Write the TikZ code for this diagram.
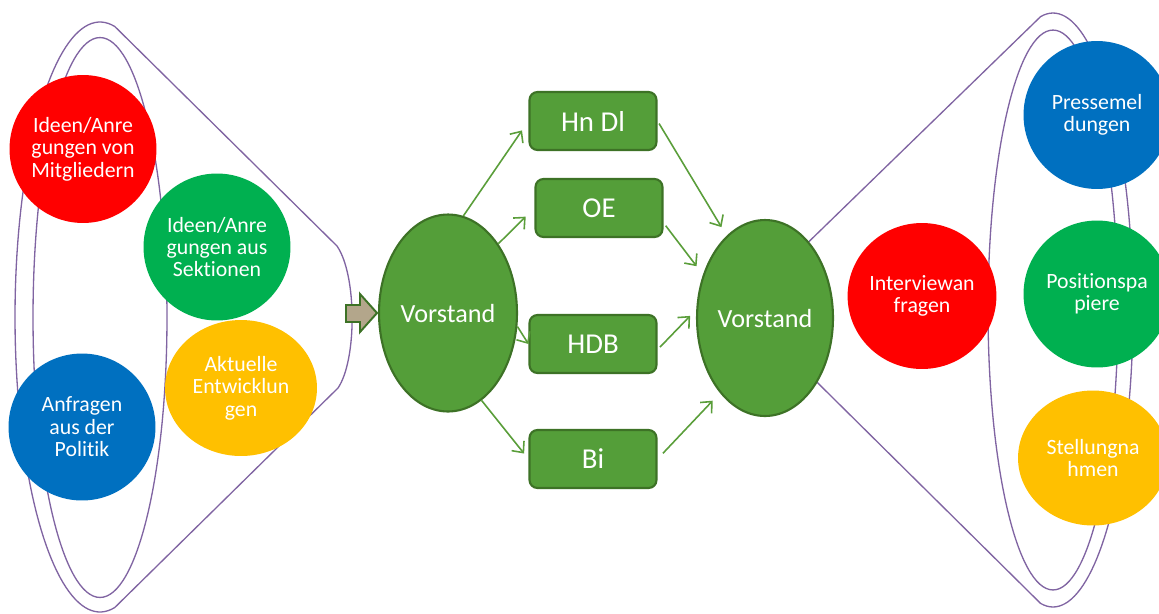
\documentclass[tikz,border=0pt]{standalone}
\usepackage{fontspec}
\setmainfont{Carlito}[Ligatures=NoCommon]
\usetikzlibrary{shapes.geometric,arrows.meta}
\definecolor{cred}{HTML}{FF0000}
\definecolor{cgreen}{HTML}{00B050}
\definecolor{cblue}{HTML}{0070C0}
\definecolor{cyellow}{HTML}{FFC000}
\definecolor{vgreen}{HTML}{549E39}
\definecolor{vborder}{HTML}{3D7226}
\definecolor{funnelc}{HTML}{8064A2}
\definecolor{arrowgreen}{HTML}{5A9E3A}
\definecolor{tanfill}{HTML}{B3A68B}
\begin{document}
\begin{tikzpicture}[x=0.02cm,y=-0.02cm,
  funnel/.style={draw=funnelc, line width=0.75pt},
  bubble/.style={ellipse, inner sep=0pt, text=white, align=center,
    font=\fontsize{12.4pt}{12.8pt}\selectfont},
  vorstand/.style={ellipse, inner sep=0pt, fill=vgreen, draw=vborder, line width=1.2pt,
    text=white, font=\fontsize{14.9pt}{16pt}\selectfont},
  box/.style={rectangle, rounded corners=4.5pt, fill=vgreen, draw=vborder, line width=1.2pt,
    minimum width=2.54cm, minimum height=1.16cm, inner sep=0pt, text=white,
    font=\fontsize{16.4pt}{18pt}\selectfont},
  conn/.style={draw=arrowgreen, line width=0.9pt, -{Straight Barb[length=5pt,width=9pt]}}
]
\useasboundingbox (0,0) rectangle (1159,613);
\clip (0,0) rectangle (1159,613);
\fill[white] (0,0) rectangle (1159,613);

% left funnel
\draw[funnel] (337,246) -- (114.8,26.5)
  -- plot[domain=-80:-280, samples=90] ({100+85*cos(\x)},{317+295*sin(\x)})
  -- (338,388) .. controls (357,360) and (357,275) .. (337,246);
\draw[funnel] (100,317.5) ellipse [x radius=1.34cm, y radius=5.6cm];

% right funnel
\draw[funnel] (790,260) -- (1040.5,16.7)
  -- plot[domain=-99:99, samples=90] ({1053+80*cos(\x)},{310+297*sin(\x)})
  -- (795,360.4);
\draw[funnel] (1053,310) ellipse [x radius=1.3cm, y radius=5.6cm];

% left bubbles
\node[bubble, fill=cred, minimum width=2.94cm, minimum height=2.96cm] (mitglieder) at (83,149) {Ideen/Anre\\gungen von\\Mitgliedern};
\node[bubble, fill=cgreen, minimum width=2.94cm, minimum height=2.94cm] (sektionen) at (217,247) {Ideen/Anre\\gungen aus\\Sektionen};
\node[bubble, fill=cblue, minimum width=2.94cm, minimum height=2.94cm] (politik) at (82,427) {Anfragen\\aus der\\Politik};
\node[bubble, fill=cyellow, minimum width=3.04cm, minimum height=2.72cm] (entw) at (241,388) {Aktuelle\\Entwicklun\\gen};

% block arrow
\draw[fill=tanfill, draw=vborder, line width=1.1pt, line join=miter]
  (346,305) -- (360,305) -- (360,294) -- (377,313) -- (360,332) -- (360,322) -- (346,322) -- cycle;

% Vorstand + boxes
\node[vorstand, minimum width=2.76cm, minimum height=3.94cm] (v1) at (448,313) {Vorstand};
\node[vorstand, minimum width=2.72cm, minimum height=3.92cm] (v2) at (765,318) {Vorstand};
\node[box] (hn) at (593,121) {Hn Dl};
\node[box] (oe) at (599,208) {OE};
\node[box] (hdb) at (593,344) {HDB};
\node[box] (bi) at (593,459) {Bi};

\draw[conn, shorten >=6.5pt] (v1.81) -- (hn.west);
\draw[conn, shorten >=7pt] (v1.54) -- (oe.west);
\draw[conn] (v1.-11) -- (hdb.west);
\draw[conn, shorten >=4pt] (v1.-69) -- (bi.west);
\draw[conn, shorten <=1.7pt, shorten >=5.7pt] (hn.east) -- (v2.115);
\draw[conn, shorten <=2pt, shorten >=6pt] (oe.-13) -- (v2.145);
\draw[conn, shorten <=2pt, shorten >=5pt] (hdb.-5) -- (v2.173);
\draw[conn, shorten <=4.5pt, shorten >=6pt] (bi.east) -- (v2.239);

% right bubbles
\node[bubble, fill=cred, minimum width=2.9cm, minimum height=2.92cm] (interview) at (922,296) {Interviewan\\fragen};
\node[bubble, fill=cblue, minimum width=2.94cm, minimum height=2.96cm] (presse) at (1097,115) {Pressemel\\dungen};
\node[bubble, fill=cgreen, minimum width=2.94cm, minimum height=2.94cm] (position) at (1097,294) {Positionspa\\piere};
\node[bubble, fill=cyellow, minimum width=3.0cm, minimum height=2.7cm] (stellung) at (1093,458) {Stellungna\\hmen};
\end{tikzpicture}
\end{document}
